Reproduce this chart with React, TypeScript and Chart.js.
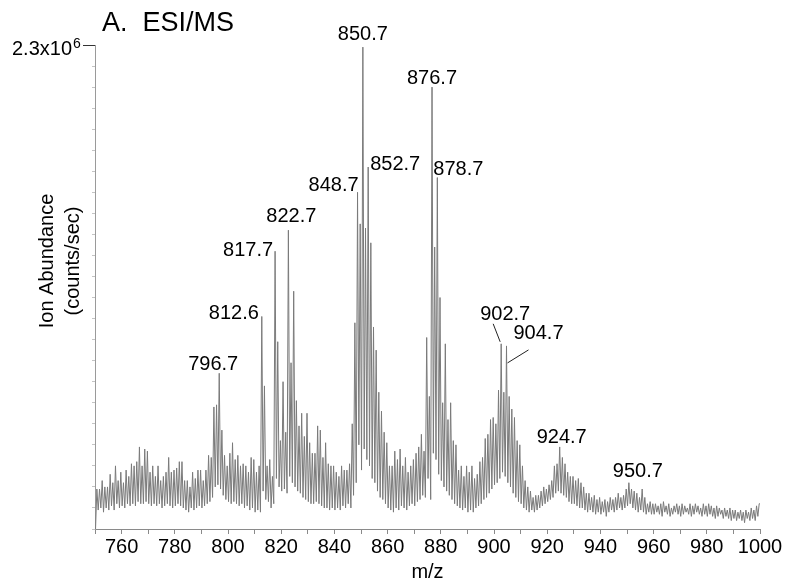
import React, { useEffect, useRef } from "react";
import { Chart, registerables } from "chart.js";

Chart.register(...registerables);

// m/z range of the spectrum
const mzStart = 750;
const mzEnd = 1000;
const xTickStep = 10;
const yMax = 2.3; // x10^6 counts/sec
const yTickStep = 0.1;

// Peak apex heights (x10^6 counts/sec) at m/z = 750.7, 751.7, ... 999.7
const peakHeights: number[] = [
  0.19, 0.19, 0.23, 0.20, 0.20, 0.26, 0.22, 0.30, 0.23, 0.27, // 750
  0.22, 0.28, 0.25, 0.31, 0.30, 0.32, 0.39, 0.30, 0.38, 0.37, // 760
  0.27, 0.30, 0.25, 0.30, 0.23, 0.25, 0.27, 0.34, 0.27, 0.28, // 770
  0.29, 0.32, 0.32, 0.23, 0.23, 0.20, 0.27, 0.24, 0.28, 0.28, // 780
  0.23, 0.28, 0.35, 0.34, 0.58, 0.59, 0.74, 0.47, 0.35, 0.30, // 790
  0.36, 0.41, 0.33, 0.35, 0.30, 0.31, 0.30, 0.27, 0.34, 0.33, // 800
  0.27, 0.30, 1.01, 0.68, 0.30, 0.33, 0.25, 1.32, 0.89, 0.42, // 810
  0.70, 0.46, 1.42, 0.79, 1.13, 0.61, 0.49, 0.55, 0.44, 0.55, // 820
  0.41, 0.36, 0.36, 0.49, 0.47, 0.34, 0.41, 0.31, 0.30, 0.30, // 830
  0.27, 0.25, 0.30, 0.28, 0.28, 0.31, 0.50, 0.98, 1.60, 1.45, // 840
  2.29, 1.43, 1.72, 1.36, 0.96, 0.85, 0.65, 0.56, 0.46, 0.41, // 850
  0.30, 0.30, 0.37, 0.33, 0.38, 0.30, 0.34, 0.27, 0.30, 0.33, // 860
  0.36, 0.39, 0.45, 0.37, 0.91, 0.63, 2.10, 1.34, 1.67, 1.10, // 870
  0.60, 0.88, 0.52, 0.60, 0.42, 0.40, 0.28, 0.30, 0.25, 0.30, // 880
  0.27, 0.30, 0.24, 0.26, 0.32, 0.34, 0.43, 0.45, 0.52, 0.53, // 890
  0.50, 0.66, 0.88, 0.65, 0.87, 0.63, 0.57, 0.53, 0.42, 0.40, // 900
  0.30, 0.23, 0.20, 0.18, 0.15, 0.16, 0.16, 0.18, 0.20, 0.19, // 910
  0.21, 0.23, 0.30, 0.31, 0.39, 0.34, 0.31, 0.27, 0.25, 0.25, // 920
  0.23, 0.24, 0.22, 0.20, 0.17, 0.17, 0.15, 0.16, 0.14, 0.15, // 930
  0.13, 0.14, 0.13, 0.15, 0.14, 0.15, 0.17, 0.15, 0.16, 0.19, // 940
  0.22, 0.19, 0.18, 0.17, 0.15, 0.19, 0.15, 0.12, 0.13, 0.12, // 950
  0.12, 0.11, 0.12, 0.13, 0.11, 0.12, 0.10, 0.11, 0.12, 0.11, // 960
  0.12, 0.11, 0.10, 0.12, 0.11, 0.12, 0.11, 0.10, 0.12, 0.11, // 970
  0.12, 0.11, 0.10, 0.11, 0.10, 0.09, 0.10, 0.09, 0.10, 0.09, // 980
  0.09, 0.08, 0.09, 0.08, 0.09, 0.08, 0.10, 0.09, 0.11, 0.12, // 990
];

// Trough heights (x10^6 counts/sec) at m/z = 750.2, 751.2, ... 999.2
const valleyHeights: number[] = [
  0.00, 0.09, 0.10, 0.08, 0.10, 0.09, 0.11, 0.09, 0.12, 0.10, // 750
  0.11, 0.10, 0.12, 0.11, 0.12, 0.11, 0.13, 0.12, 0.12, 0.13, // 760
  0.12, 0.11, 0.12, 0.11, 0.12, 0.10, 0.11, 0.12, 0.11, 0.10, // 770
  0.11, 0.12, 0.11, 0.10, 0.09, 0.08, 0.10, 0.09, 0.10, 0.11, // 780
  0.10, 0.11, 0.12, 0.13, 0.15, 0.20, 0.21, 0.19, 0.16, 0.14, // 790
  0.13, 0.12, 0.13, 0.12, 0.11, 0.12, 0.10, 0.11, 0.09, 0.10, // 800
  0.08, 0.09, 0.08, 0.18, 0.14, 0.13, 0.10, 0.12, 0.24, 0.20, // 810
  0.18, 0.19, 0.17, 0.25, 0.22, 0.20, 0.18, 0.17, 0.15, 0.14, // 820
  0.13, 0.12, 0.12, 0.13, 0.12, 0.11, 0.10, 0.10, 0.09, 0.10, // 830
  0.09, 0.10, 0.09, 0.11, 0.10, 0.12, 0.10, 0.16, 0.22, 0.40, // 840
  0.28, 0.38, 0.33, 0.30, 0.24, 0.22, 0.18, 0.15, 0.14, 0.12, // 850
  0.10, 0.09, 0.08, 0.10, 0.09, 0.11, 0.10, 0.09, 0.11, 0.12, // 860
  0.11, 0.13, 0.14, 0.16, 0.15, 0.24, 0.14, 0.36, 0.33, 0.26, // 870
  0.23, 0.20, 0.18, 0.16, 0.14, 0.12, 0.11, 0.10, 0.09, 0.10, // 880
  0.08, 0.09, 0.08, 0.10, 0.11, 0.12, 0.14, 0.15, 0.17, 0.19, // 890
  0.21, 0.22, 0.24, 0.27, 0.25, 0.22, 0.20, 0.17, 0.15, 0.13, // 900
  0.12, 0.10, 0.09, 0.08, 0.09, 0.08, 0.09, 0.10, 0.11, 0.12, // 910
  0.13, 0.14, 0.15, 0.17, 0.18, 0.17, 0.16, 0.15, 0.13, 0.12, // 920
  0.12, 0.11, 0.10, 0.10, 0.09, 0.08, 0.09, 0.08, 0.07, 0.08, // 930
  0.07, 0.08, 0.06, 0.08, 0.09, 0.08, 0.09, 0.10, 0.09, 0.10, // 940
  0.11, 0.12, 0.10, 0.09, 0.08, 0.09, 0.08, 0.07, 0.08, 0.07, // 950
  0.07, 0.08, 0.07, 0.06, 0.08, 0.07, 0.06, 0.07, 0.08, 0.07, // 960
  0.06, 0.07, 0.08, 0.07, 0.06, 0.07, 0.08, 0.07, 0.06, 0.07, // 970
  0.06, 0.07, 0.06, 0.05, 0.06, 0.07, 0.05, 0.06, 0.05, 0.04, // 980
  0.05, 0.04, 0.05, 0.04, 0.03, 0.05, 0.04, 0.05, 0.04, 0.06, // 990
];
const endHeight = 0.12; // signal at m/z 1000

// Labelled peaks
const peakLabels: string[] = [
  "796.7", "812.6", "817.7", "822.7", "848.7", "850.7", "852.7",
  "876.7", "878.7", "902.7", "904.7", "924.7", "950.7",
];
// label offsets from the peak apex (px): [dx, dy]
const labelOffsets: number[][] = [
  [-6, -9], [-28, -3], [-27, -1], [3, -14], [-24, -7], [0, -13], [27, -3],
  [0, -9], [21, -8], [4, -29], [32, -12], [2, -9], [9, -11],
];
// leader lines for crowded labels: label -> [dx1, dy1, dx2, dy2]
const leaderLines: Record<string, number[]> = {
  "902.7": [-8, -20, -1, -2],
  "904.7": [22, 4, 1, 17],
};

const FONT = "'Liberation Sans', Arial, Helvetica, sans-serif";

function buildPoints() {
  const pts: { x: number; y: number }[] = [];
  for (let i = 0; i < peakHeights.length; i++) {
    pts.push({ x: mzStart + i + 0.2, y: valleyHeights[i] });
    pts.push({ x: mzStart + i + 0.7, y: peakHeights[i] });
  }
  pts.push({ x: mzEnd, y: endHeight });
  return pts;
}

const decorPlugin = {
  id: "decor",
  afterDraw(chart: any) {
    const ctx = chart.ctx as CanvasRenderingContext2D;
    const xs = chart.scales.x;
    const ys = chart.scales.y;
    const area = chart.chartArea;
    ctx.save();
    ctx.fillStyle = "#000";

    // Title
    ctx.font = `27px ${FONT}`;
    ctx.textAlign = "left";
    ctx.textBaseline = "middle";
    ctx.fillText("A.  ESI/MS", 102, 24);

    // Top y tick + label 2.3x10^6
    const yTop = ys.getPixelForValue(yMax);
    ctx.strokeStyle = "#333";
    ctx.lineWidth = 1;
    ctx.beginPath();
    ctx.moveTo(area.left - 12, Math.round(yTop) + 0.5);
    ctx.lineTo(area.left, Math.round(yTop) + 0.5);
    ctx.stroke();
    ctx.font = `20px ${FONT}`;
    ctx.textAlign = "right";
    ctx.textBaseline = "middle";
    const supW = 9;
    ctx.fillText("2.3x10", area.left - 14 - supW, yTop + 4);
    ctx.font = `14px ${FONT}`;
    ctx.textAlign = "left";
    ctx.fillText("6", area.left - 14 - supW + 1, yTop - 1);

    // Y axis title
    ctx.save();
    ctx.translate(47, 261);
    ctx.rotate(-Math.PI / 2);
    ctx.font = `20px ${FONT}`;
    ctx.textAlign = "center";
    ctx.textBaseline = "middle";
    ctx.fillText("Ion Abundance", 0, 0);
    ctx.fillText("(counts/sec)", 0, 26);
    ctx.restore();

    // X axis title
    ctx.font = `20px ${FONT}`;
    ctx.textAlign = "center";
    ctx.textBaseline = "middle";
    ctx.fillText("m/z", (area.left + area.right) / 2, 572);

    // Peak labels
    peakLabels.forEach((lab, k) => {
      const mz = parseFloat(lab);
      const idx = Math.floor(mz) - mzStart;
      const px = xs.getPixelForValue(mzStart + idx + 0.7);
      const py = ys.getPixelForValue(peakHeights[idx]);
      const [dx, dy] = labelOffsets[k];
      ctx.font = `20px ${FONT}`;
      ctx.textAlign = "center";
      ctx.textBaseline = "middle";
      ctx.fillStyle = "#000";
      ctx.fillText(lab, px + dx, py + dy);
      const ld = leaderLines[lab];
      if (ld) {
        ctx.strokeStyle = "#222";
        ctx.lineWidth = 1;
        ctx.beginPath();
        ctx.moveTo(px + ld[0], py + ld[1]);
        ctx.lineTo(px + ld[2], py + ld[3]);
        ctx.stroke();
      }
    });
    ctx.restore();
  },
};

export default function App() {
  const ref = useRef<HTMLCanvasElement | null>(null);
  useEffect(() => {
    if (!ref.current) return;
    const chart = new Chart(ref.current, {
      type: "line",
      data: {
        datasets: [
          {
            data: buildPoints(),
            borderColor: "#7a7a7a",
            borderWidth: 1,
            pointRadius: 0,
            tension: 0,
            fill: false,
          },
        ],
      },
      options: {
        responsive: false,
        animation: false,
        events: [],
        layout: { padding: { left: 0, right: 40, top: 45, bottom: 0 } },
        plugins: { legend: { display: false }, tooltip: { enabled: false } },
        scales: {
          x: {
            type: "linear",
            min: mzStart,
            max: mzEnd,
            afterFit: (s: any) => {
              s.height = 55;
            },
            ticks: {
              stepSize: xTickStep,
              autoSkip: false,
              maxRotation: 0,
              padding: 1,
              color: "#000",
              font: { family: FONT, size: 20 },
              callback: (v: any) => (Number(v) % 20 === 0 ? String(v) : ""),
            },
            grid: { drawOnChartArea: false, drawTicks: true, tickLength: 5, color: "#8a8a8a" },
            border: { color: "#8a8a8a", width: 1 },
          },
          y: {
            type: "linear",
            min: 0,
            max: yMax,
            afterFit: (s: any) => {
              s.width = 95;
            },
            ticks: { stepSize: yTickStep, display: false },
            grid: { drawOnChartArea: false, drawTicks: true, tickLength: 3, color: "#c4c4c4" },
            border: { color: "#9a9a9a", width: 1 },
          },
        },
      },
      plugins: [decorPlugin],
    });
    return () => chart.destroy();
  }, []);
  return (
    <div style={{ position: "fixed", left: 0, top: 0, width: 800, height: 584, background: "#fff" }}>
      <canvas ref={ref} width={800} height={584} />
    </div>
  );
}
